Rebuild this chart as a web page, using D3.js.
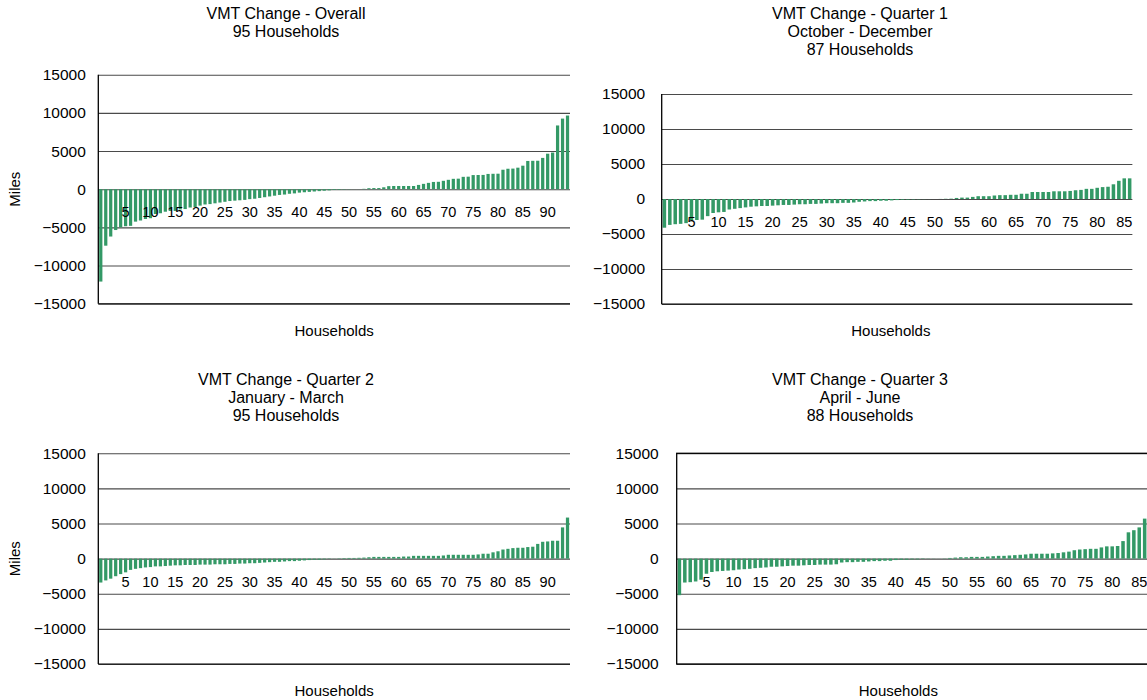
<!DOCTYPE html>
<html>
<head>
<meta charset="utf-8">
<script src="https://cdn.jsdelivr.net/npm/d3@7"></script>
<style>
  html, body { margin: 0; padding: 0; background: #fff; }
  svg { display: block; font-family: "Liberation Sans", Arial, sans-serif; }
</style>
</head>
<body>
<svg id="chart" width="1147" height="700"></svg>
<script>
// Change in vehicle miles travelled per household, sorted ascending
const overallValues = [
  -12100, -7400, -6200, -5350, -5000, -4850, -4800, -4250, -4100, -3900,
  -3800, -3250, -3150, -2950, -2850, -2850, -2650, -2600, -2400, -2350,
  -2150, -2000, -1950, -1850, -1750, -1650, -1550, -1500, -1450, -1400,
  -1300, -1250, -1150, -1050, -950, -850, -750, -700, -600, -550,
  -450, -400, -350, -300, -250, -200, -150, -100, -80, -50,
  -30, -10, 10, 50, 130, 150, 150, 250, 400, 420,
  420, 420, 420, 420, 560, 700, 830, 950, 970, 1100,
  1230, 1360, 1380, 1620, 1640, 1850, 1860, 1870, 2000, 2020,
  2030, 2550, 2680, 2700, 2820, 3080, 3700, 3720, 3730, 4100,
  4650, 4800, 8350, 9250, 9650
];

const quarter1Values = [
  -4100, -3700, -3600, -3550, -3450, -3050, -3000, -2950, -2450, -2000,
  -1900, -1850, -1500, -1400, -1300, -1200, -1100, -1050, -1000, -1000,
  -950, -900, -850, -850, -800, -750, -750, -700, -700, -650,
  -600, -600, -600, -550, -550, -500, -400, -350, -300, -300,
  -250, -250, -200, -150, -100, -80, -60, -40, -20, -10,
  0, 10, 30, 50, 150, 200, 200, 300, 400, 400,
  400, 500, 550, 550, 600, 600, 750, 750, 1000, 1000,
  1000, 1000, 1100, 1100, 1100, 1150, 1250, 1300, 1450, 1450,
  1600, 1700, 1750, 2100, 2600, 2950, 2950
];

const quarter2Values = [
  -3400, -3100, -2850, -2500, -2200, -1950, -1600, -1450, -1350, -1250,
  -1200, -1100, -1100, -1050, -1000, -950, -950, -900, -900, -900,
  -850, -850, -850, -800, -800, -800, -750, -750, -700, -700,
  -650, -650, -600, -550, -500, -450, -450, -400, -350, -350,
  -300, -250, -200, -150, -150, -100, -50, 20, 50, 80,
  100, 100, 120, 150, 200, 250, 250, 250, 250, 250,
  250, 300, 300, 400, 400, 400, 400, 400, 400, 450,
  550, 550, 550, 550, 550, 550, 600, 700, 700, 900,
  1050, 1300, 1400, 1500, 1550, 1550, 1650, 1700, 2100, 2400,
  2450, 2550, 2550, 4450, 5850
];

const quarter3Values = [
  -5200, -3400, -3350, -3250, -3000, -2150, -1900, -1800, -1750, -1700,
  -1650, -1550, -1500, -1450, -1350, -1300, -1250, -1150, -1150, -1100,
  -1050, -1000, -1000, -950, -900, -900, -850, -850, -850, -800,
  -550, -500, -500, -450, -450, -400, -350, -350, -300, -300,
  -200, -150, -150, -100, -100, -50, -30, -20, -10, 30,
  100, 150, 200, 200, 250, 250, 250, 300, 350, 400,
  400, 450, 500, 550, 600, 700, 700, 700, 700, 750,
  800, 900, 1000, 1200, 1300, 1350, 1400, 1400, 1600, 1750,
  1750, 1800, 2500, 3750, 4050, 4450, 5700, 6200
];

const overallTitle = ["VMT Change - Overall", "95 Households"];
const quarter1Title = ["VMT Change - Quarter 1", "October - December", "87 Households"];
const quarter2Title = ["VMT Change - Quarter 2", "January - March", "95 Households"];
const quarter3Title = ["VMT Change - Quarter 3", "April - June", "88 Households"];

const yTicks = [-15000, -10000, -5000, 0, 5000, 10000, 15000];
const labelStep = 5;
const xAxisTitle = "Households";
const yAxisTitle = "Miles";

const barColor = "#339966";
const gridColor = "#4a4a4a";
const titleSize = 16;
const axisTitleSize = 15;
const tickSize = 15.5;
const rankSize = 14.5;

const svg = d3.select("#chart");

// Panel frames: plot rectangle, title anchor and extras
const panels = [
  { values: overallValues, title: overallTitle,
    x0: 98.3, band: 471.7 / 95, top: 74.7, bottom: 303.7,
    titleX: 286, titleY: 19, xTitleY: 335.5, yTitle: true, labelGap: 12.5, boxed: false },
  { values: quarter1Values, title: quarter1Title,
    x0: 661.7, band: 5.41, top: 94, bottom: 304,
    titleX: 860, titleY: 19, xTitleY: 335.5, yTitle: false, labelGap: 16.5, boxed: false },
  { values: quarter2Values, title: quarter2Title,
    x0: 98.3, band: 471.7 / 95, top: 453.3, bottom: 664,
    titleX: 286, titleY: 384.5, xTitleY: 695.5, yTitle: true, labelGap: 12.5, boxed: false },
  { values: quarter3Values, title: quarter3Title,
    x0: 676.7, band: 5.41, top: 453.3, bottom: 664,
    titleX: 860, titleY: 384.5, xTitleY: 695.5, yTitle: false, labelGap: 18, boxed: true }
];

panels.forEach(p => {
  const n = p.values.length;
  const households = d3.range(1, n + 1);
  const x1 = p.x0 + n * p.band;

  const x = d3.scaleBand()
    .domain(households)
    .range([p.x0, x1])
    .paddingInner(0.35)
    .paddingOuter(0.175);

  const y = d3.scaleLinear()
    .domain([yTicks[0], yTicks[yTicks.length - 1]])
    .range([p.bottom, p.top]);

  const g = svg.append("g");

  // Horizontal gridlines and value labels
  const yAxis = g.append("g")
    .attr("transform", `translate(${p.x0},0)`)
    .call(d3.axisLeft(y).tickValues(yTicks).tickSize(-(x1 - p.x0)).tickPadding(p.labelGap)
      .tickFormat(d3.format("d")));
  yAxis.select(".domain").remove();
  yAxis.selectAll(".tick line").attr("stroke", gridColor).attr("stroke-width", 1.1);
  yAxis.selectAll(".tick text")
    .attr("font-size", tickSize)
    .attr("fill", "#000")
    .attr("font-family", "Liberation Sans, Arial, sans-serif");

  // Bars
  g.append("g").selectAll("rect")
    .data(p.values)
    .join("rect")
    .attr("x", (d, i) => x(households[i]))
    .attr("width", x.bandwidth())
    .attr("y", d => y(Math.max(0, d)))
    .attr("height", d => Math.abs(y(d) - y(0)))
    .attr("fill", barColor);

  // Household rank labels under the zero line (last one is left off at the edge)
  const xAxis = g.append("g")
    .attr("transform", `translate(${p.band},${y(0)})`)
    .call(d3.axisBottom(x)
      .tickValues(households.filter(h => h % labelStep === 0 && h < n))
      .tickSize(0).tickPadding(18));
  xAxis.select(".domain").remove();
  xAxis.selectAll(".tick text")
    .attr("font-size", rankSize)
    .attr("fill", "#000")
    .attr("font-family", "Liberation Sans, Arial, sans-serif");

  // Value axis line / frame
  if (p.boxed) {
    g.append("rect")
      .attr("x", p.x0).attr("y", p.top)
      .attr("width", x1 - p.x0).attr("height", p.bottom - p.top)
      .attr("fill", "none").attr("stroke", "#000").attr("stroke-width", 1.3);
  } else {
    g.append("line")
      .attr("x1", p.x0).attr("x2", p.x0)
      .attr("y1", p.top).attr("y2", p.bottom)
      .attr("stroke", "#000").attr("stroke-width", 1.3);
    g.append("line")
      .attr("x1", p.x0).attr("x2", x1)
      .attr("y1", p.bottom).attr("y2", p.bottom)
      .attr("stroke", "#000").attr("stroke-width", 1.1);
  }

  // Title block
  g.append("text")
    .attr("text-anchor", "middle")
    .attr("font-size", titleSize)
    .selectAll("tspan")
    .data(p.title)
    .join("tspan")
    .attr("x", p.titleX)
    .attr("y", (d, i) => p.titleY + i * 18)
    .text(d => d);

  // Category axis title
  g.append("text")
    .attr("x", (p.x0 + Math.min(x1, 1120)) / 2)
    .attr("y", p.xTitleY)
    .attr("text-anchor", "middle")
    .attr("font-size", axisTitleSize)
    .text(xAxisTitle);

  // Value axis title
  if (p.yTitle) {
    g.append("text")
      .attr("transform", `translate(20,${(p.top + p.bottom) / 2}) rotate(-90)`)
      .attr("text-anchor", "middle")
      .attr("font-size", axisTitleSize)
      .text(yAxisTitle);
  }
});
</script>
</body>
</html>
